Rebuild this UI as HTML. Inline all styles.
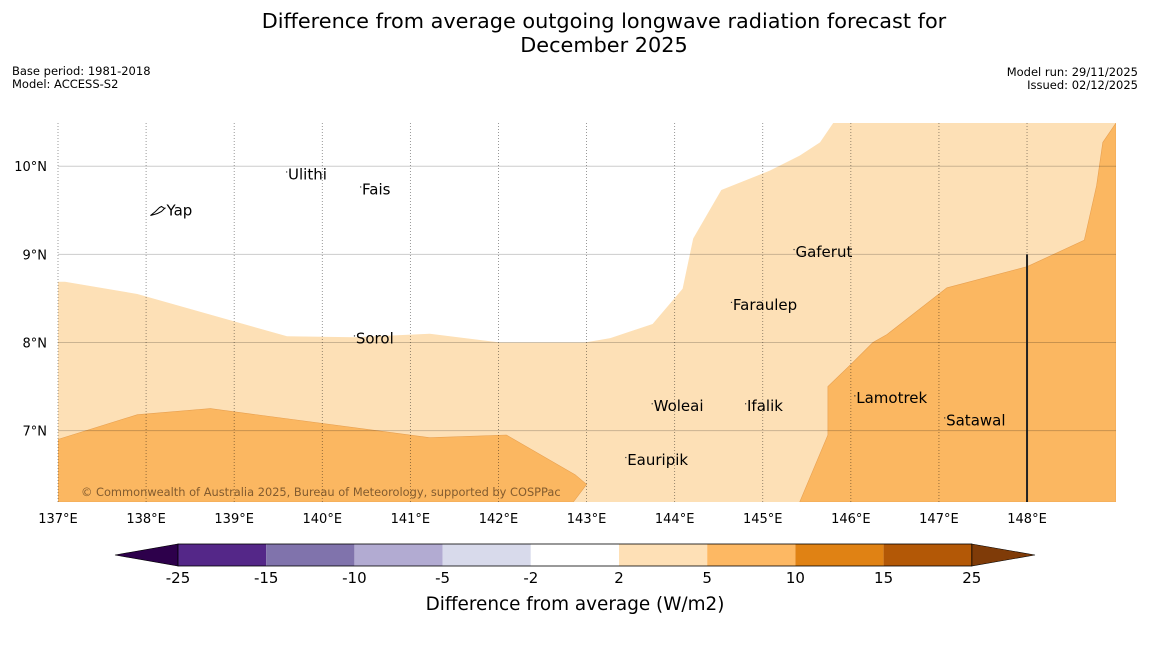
<!DOCTYPE html>
<html><head><meta charset="utf-8"><style>
body{margin:0;background:#fff;font-family:"Liberation Sans","DejaVu Sans",sans-serif}
svg text{font-family:"DejaVu Sans","Liberation Sans",sans-serif}
</style></head><body>
<svg id="c" width="1150" height="644" xmlns="http://www.w3.org/2000/svg">
<rect width="1150" height="644" fill="#fff"/>
<text x="604" y="28" font-size="20.8" text-anchor="middle">Difference from average outgoing longwave radiation forecast for</text>
<text x="604" y="52" font-size="20.8" text-anchor="middle">December 2025</text>
<text x="12" y="75" font-size="11.5">Base period: 1981-2018</text>
<text x="12" y="88" font-size="11.5">Model: ACCESS-S2</text>
<text x="1138" y="76" font-size="11.5" text-anchor="end">Model run: 29/11/2025</text>
<text x="1138" y="89" font-size="11.5" text-anchor="end">Issued: 02/12/2025</text>
<g id="map"></g>
<g id="cbar"></g>
</svg>
<script>
const lonTicks=[137,138,139,140,141,142,143,144,145,146,147,148];
const latTicks=[7,8,9,10];
const whiteLon=[136.9,136.9,137.08,137.9,139.6,140.37,141.22,142.02,142.98,143.27,143.75,144.09,144.21,144.53,145.08,145.42,145.65,145.8,145.8];
const whiteLat=[10.6,8.69,8.69,8.55,8.07,8.06,8.1,8.0,8.0,8.05,8.21,8.61,9.18,9.73,9.95,10.12,10.27,10.49,10.6];
const eastLon=[149.01,148.86,148.79,148.65,148.0,147.09,146.41,146.25,146.0,145.74,145.74,145.42,149.01];
const eastLat=[10.49,10.27,9.78,9.16,8.86,8.62,8.09,8.0,7.75,7.5,6.95,6.19,6.19];
const swLon=[137,137.9,138.73,141.22,142.09,142.87,143.0,142.85,137];
const swLat=[6.9,7.18,7.25,6.92,6.95,6.5,6.39,6.19,6.19];
const places=["Yap","Ulithi","Fais","Gaferut","Faraulep","Sorol","Lamotrek","Woleai","Ifalik","Satawal","Eauripik"];
const placeLon=[138.22,139.6,140.44,145.36,144.65,140.37,146.05,143.75,144.81,147.07,143.45];
const placeLat=[9.52,9.93,9.76,9.05,8.45,8.07,7.39,7.3,7.3,7.14,6.69];
const cbBounds=[-25,-15,-10,-5,-2,2,5,10,15,25];
const cbColors=["#542788","#8073ac","#b2abd2","#d8daeb","#ffffff","#fee0b6","#fdb863","#e08214","#b35806"];
const LON0=137,LON1=149.01,LAT0=6.19,LAT1=10.49;
const X0=58,X1=1116,Y0=123,Y1=502;
const xs=l=>X0+(l-LON0)/(LON1-LON0)*(X1-X0);
const ys=l=>Y1-(l-LAT0)/(LAT1-LAT0)*(Y1-Y0);
const NS="http://www.w3.org/2000/svg";
const map=document.getElementById('map');
function mk(p,tag,at){const e=document.createElementNS(NS,tag);for(const k in at)e.setAttribute(k,at[k]);p.appendChild(e);return e;}
function poly(lons,lats){return lons.map((l,i)=>xs(l).toFixed(1)+','+ys(lats[i]).toFixed(1)).join(' ');}
const clip=mk(map,'clipPath',{id:'mc'});mk(clip,'rect',{x:X0,y:Y0,width:X1-X0,height:Y1-Y0});
const g=mk(map,'g',{'clip-path':'url(#mc)'});
let e=mk(g,'rect',{x:X0,y:Y0,width:X1-X0,height:Y1-Y0,fill:'#fde0b6'});


e=mk(g,'polygon',{points:poly(whiteLon,whiteLat),fill:'#fff'});


e=mk(g,'polygon',{points:poly(eastLon,eastLat),fill:'#fbb761',stroke:'#e8a050','stroke-width':0.6});


e=mk(g,'polygon',{points:poly(swLon,swLat),fill:'#fbb761',stroke:'#e8a050','stroke-width':0.6});


latTicks.forEach(t=>{
 e=mk(map,'line',{x1:X0,x2:X1,y1:ys(t),y2:ys(t),stroke:'rgba(0,0,0,0.2)','stroke-width':1});
 
 
 e=mk(map,'text',{x:47,y:ys(t)+5,'font-size':13,'text-anchor':'end'});e.textContent=t+'°N';
 
 
});
lonTicks.forEach(t=>{
 e=mk(map,'line',{x1:xs(t),x2:xs(t),y1:Y0,y2:Y1,stroke:'rgba(0,0,0,0.5)','stroke-width':0.8,'stroke-dasharray':'1,2'});
 
 
 e=mk(map,'text',{x:xs(t),y:523,'font-size':13,'text-anchor':'middle'});e.textContent=t+'°E';
 
 
});
e=mk(map,'line',{x1:xs(148),x2:xs(148),y1:ys(9),y2:Y1,stroke:'#222','stroke-width':2});


places.forEach((p,i)=>{
 const x=xs(placeLon[i]),y=ys(placeLat[i]);
 e=mk(map,'rect',{x:x-1,y:y-1,width:1.2,height:1.2,fill:'#333'});
 
 
 e=mk(map,'text',{x:x+1,y:y+7,'font-size':15});e.textContent=p;
 
 
});
e=mk(map,'path',{d:`M${xs(138.22)-15} ${ys(9.52)+7} l5 -4 l4 -4 l2 -1 l3 2 l-3 3 l-4 2 z`,fill:'none',stroke:'#000','stroke-width':1});


e=mk(map,'text',{x:81,y:496,'font-size':11.4,fill:'rgba(90,60,30,0.75)'});e.textContent='© Commonwealth of Australia 2025, Bureau of Meteorology, supported by COSPPac';


const cb=document.getElementById('cbar');
const CX0=178,CW=88.2,CY=544,CH=22;
e=mk(cb,'polygon',{points:`115,555 ${CX0},${CY} ${CX0},${CY+CH}`,fill:'#2d004b',stroke:'#000','stroke-width':0.6});


cbColors.forEach((c,i)=>{
 e=mk(cb,'rect',{x:CX0+i*CW,y:CY,width:CW,height:CH,fill:c});
 
 
});
const CX1=CX0+cbColors.length*CW;
e=mk(cb,'polygon',{points:`${CX1},${CY} 1035,555 ${CX1},${CY+CH}`,fill:'#7f3b08',stroke:'#000','stroke-width':0.6});


e=mk(cb,'rect',{x:CX0,y:CY,width:CX1-CX0,height:CH,fill:'none',stroke:'#000','stroke-width':0.8});


cbBounds.forEach((b,i)=>{
 e=mk(cb,'text',{x:CX0+i*CW,y:583,'font-size':15,'text-anchor':'middle'});e.textContent=b;
 
 
});
e=mk(cb,'text',{x:575,y:610,'font-size':18.4,'text-anchor':'middle'});e.textContent='Difference from average (W/m2)';


</script>
</body></html>
